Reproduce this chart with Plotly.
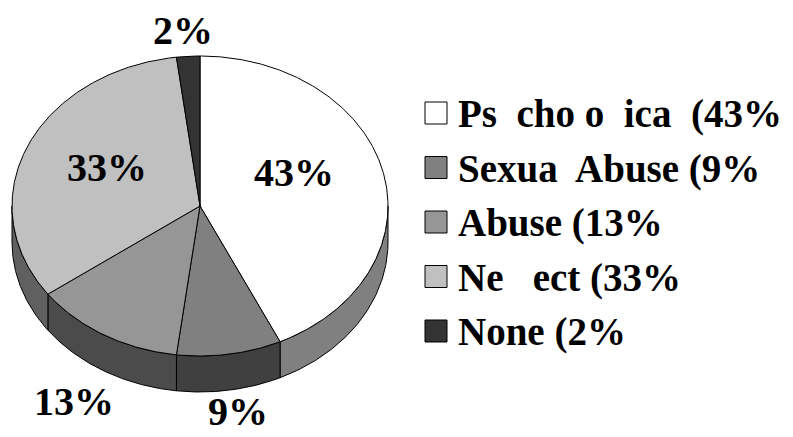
import numpy as np
import plotly.graph_objects as go

# ---- data ----
categories = ["Ps  cho o  ica ", "Sexua  Abuse", "Abuse", "Ne   ect", "None"]
values = [43, 9, 13, 33, 2]
pct_labels = ["43%", "9%", "13%", "33%", "2%"]

# ---- style ----
face_colors = ["#ffffff", "#808080", "#969696", "#c0c0c0", "#333333"]
side_colors = ["#808080", "#404040", "#4b4b4b", "#606060", "#1a1a1a"]
label_pos = [(294, 172), (238, 411), (74, 401), (107, 167), (183, 30)]
CX, CY, RX, RY, DEPTH = 200, 206, 188, 150, 36
FONT = "Liberation Serif, Times New Roman, serif"
OFF = 8  # page body margin

fig = go.Figure()

def ell(a_deg, dy=0.0):
    a = np.radians(a_deg)
    return CX + RX * np.sin(a), CY - RY * np.cos(a) + dy

total = sum(values)
starts = np.cumsum([0] + values[:-1]) / total * 360
ends = np.cumsum(values) / total * 360

# side walls (visible front part: 90..270 deg clockwise from top)
for v, s, e, sc in zip(values, starts, ends, side_colors):
    lo, hi = max(s, 90), min(e, 270)
    if hi <= lo:
        continue
    a = np.linspace(lo, hi, 80)
    xt, yt = ell(a)
    xb, yb = ell(a[::-1], DEPTH)
    fig.add_trace(go.Scatter(x=np.concatenate([xt, xb, xt[:1]]),
                             y=np.concatenate([yt, yb, yt[:1]]),
                             fill="toself", fillcolor=sc, mode="lines",
                             line=dict(color="black", width=1),
                             hoverinfo="skip", showlegend=False))

# top faces
for v, s, e, fc in zip(values, starts, ends, face_colors):
    a = np.linspace(s, e, max(int(e - s) * 2, 10))
    xs, ys = ell(a)
    fig.add_trace(go.Scatter(x=np.concatenate([[CX], xs, [CX]]),
                             y=np.concatenate([[CY], ys, [CY]]),
                             fill="toself", fillcolor=fc, mode="lines",
                             line=dict(color="black", width=1),
                             hoverinfo="skip", showlegend=False))

# percentage labels
for t, (lx, ly) in zip(pct_labels, label_pos):
    fig.add_annotation(x=lx, y=ly, text=f"<b>{t}</b>", showarrow=False,
                       xanchor="center", yanchor="middle",
                       font=dict(family=FONT, size=40, color="black"))

# legend
LX, LY0, LDY, SQ = 425, 113, 54.5, 22
for i, (c, t, fc) in enumerate(zip(categories, pct_labels, face_colors)):
    y = LY0 + i * LDY
    fig.add_shape(type="rect", x0=LX, x1=LX + SQ, y0=y - SQ / 2, y1=y + SQ / 2,
                  fillcolor=fc, line=dict(color="black", width=1))
    fig.add_annotation(x=LX + SQ + 9, y=y + 1, text=f"<b>{c} ({t}</b>", showarrow=False,
                       xanchor="left", yanchor="middle",
                       font=dict(family=FONT, size=39, color="black"))

fig.update_layout(width=793, height=437, margin=dict(l=0, r=0, t=0, b=0),
                  paper_bgcolor="white", plot_bgcolor="white",
                  xaxis=dict(range=[OFF, 793 + OFF], visible=False, fixedrange=True),
                  yaxis=dict(range=[437 + OFF, OFF], visible=False, fixedrange=True),
                  showlegend=False)
fig.write_html("out.html")
